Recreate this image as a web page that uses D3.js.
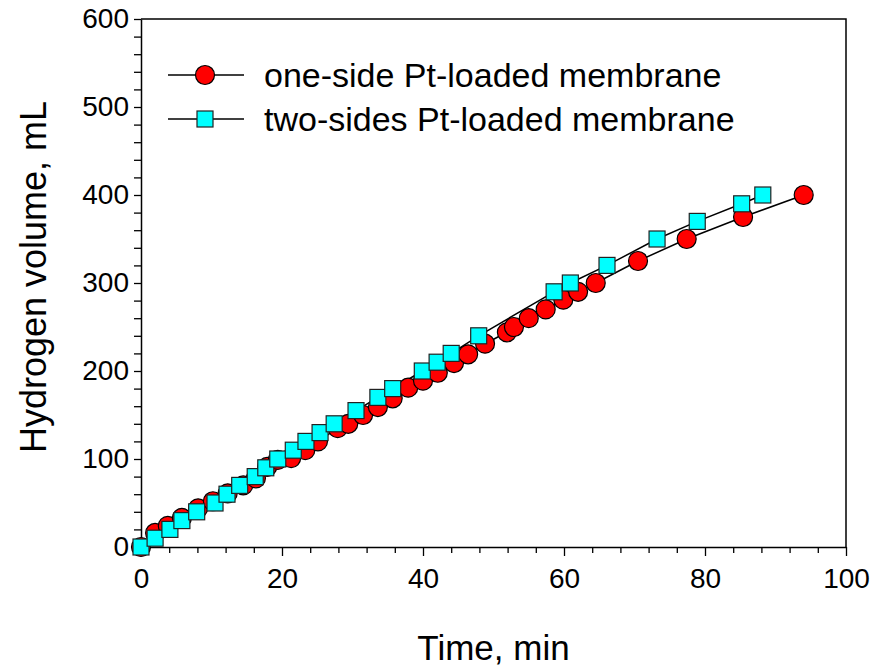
<!DOCTYPE html>
<html>
<head>
<meta charset="utf-8">
<script src="https://cdn.jsdelivr.net/npm/d3@7"></script>
<style>
  body { margin: 0; background: #fff; }
  svg text { font-family: Arial, "Liberation Sans", sans-serif; fill: #000; }
</style>
</head>
<body>
<div id="chart"></div>
<script>
// one-side Pt-loaded membrane (time in min, volume in mL)
const oneSideTime = [0, 2.0, 3.8, 5.8, 8.1, 10.2, 12.3, 14.5, 16.3, 17.9, 19.4, 21.3, 23.3, 25.1, 27.9, 29.4,
  31.5, 33.6, 35.7, 37.9, 40.0, 42.1, 44.4, 46.4, 48.8, 51.9, 52.9, 55.0, 57.4, 59.9, 62.0, 64.5, 70.5, 77.4, 85.4, 94.0];
const oneSideVol = [0, 16, 24, 33, 44, 52, 61, 70, 78, 91, 99, 101, 110, 120, 135, 140,
  150, 159, 169, 181, 189, 198, 209, 219, 231, 244, 250, 260, 270, 281, 290, 300, 325, 350, 375, 400];

// two-sides Pt-loaded membrane
const twoSidesTime = [0, 2.0, 4.1, 5.8, 7.9, 10.5, 12.2, 14.0, 16.2, 17.7, 19.4, 21.6, 23.4, 25.4, 27.4,
  30.5, 33.6, 35.7, 39.9, 42.0, 44.0, 47.9, 58.6, 60.9, 66.1, 73.2, 78.9, 85.2, 88.2];
const twoSidesVol = [0, 10, 20, 30, 40, 50, 60, 70, 80, 90, 100, 110, 120, 130, 140,
  155, 170, 180, 200, 210, 220, 240, 290, 300, 320, 350, 370, 390, 400];

const seriesNames = ["one-side Pt-loaded membrane", "two-sides Pt-loaded membrane"];
const xTicks = [0, 20, 40, 60, 80, 100];
const yTicks = [0, 100, 200, 300, 400, 500, 600];

const width = 870, height = 668;
const plot = { left: 141, right: 846, top: 19, bottom: 547 };

const svg = d3.select("#chart").append("svg")
  .attr("width", width)
  .attr("height", height);

const x = d3.scaleLinear().domain([0, 100]).range([plot.left, plot.right]);
const y = d3.scaleLinear().domain([0, 600]).range([plot.bottom, plot.top]);

// frame: top and right border
svg.append("path")
  .attr("d", `M${plot.left},${plot.top}H${plot.right}V${plot.bottom}`)
  .attr("fill", "none")
  .attr("stroke", "#000")
  .attr("stroke-width", 1.5);

// minor ticks
svg.append("g")
  .attr("transform", `translate(0,${plot.bottom})`)
  .call(d3.axisBottom(x).tickValues(d3.range(0, 101, 4).filter(v => v % 20 !== 0)).tickSize(6).tickFormat(""))
  .call(g => g.select(".domain").remove());
svg.append("g")
  .attr("transform", `translate(${plot.left},0)`)
  .call(d3.axisLeft(y).tickValues(d3.range(0, 601, 20).filter(v => v % 100 !== 0)).tickSize(7).tickFormat(""))
  .call(g => g.select(".domain").remove());

// major axes
const xAxis = svg.append("g")
  .attr("transform", `translate(0,${plot.bottom})`)
  .call(d3.axisBottom(x).tickValues(xTicks).tickSize(9).tickPadding(12).tickSizeOuter(0));
const yAxis = svg.append("g")
  .attr("transform", `translate(${plot.left},0)`)
  .call(d3.axisLeft(y).tickValues(yTicks).tickSize(7).tickPadding(5).tickSizeOuter(0));

svg.selectAll(".tick line").attr("stroke", "#000").attr("stroke-width", 1.3);
[xAxis, yAxis].forEach(a => {
  a.select(".domain").attr("stroke", "#000").attr("stroke-width", 1.5);
  a.selectAll("text").style("font-size", "28px").style("font-family", "Arial, 'Liberation Sans', sans-serif");
});

// axis titles
svg.append("text")
  .attr("x", (plot.left + plot.right) / 2)
  .attr("y", 660)
  .attr("text-anchor", "middle")
  .style("font-size", "35px")
  .text("Time, min");

svg.append("text")
  .attr("transform", `translate(46,${(plot.top + plot.bottom) / 2 - 6}) rotate(-90)`)
  .attr("text-anchor", "middle")
  .style("font-size", "36px")
  .text("Hydrogen volume, mL");

const line = d3.line().x(d => x(d.t)).y(d => y(d.v));
const oneSide = oneSideTime.map((t, i) => ({ t: t, v: oneSideVol[i] }));
const twoSides = twoSidesTime.map((t, i) => ({ t: t, v: twoSidesVol[i] }));

[oneSide, twoSides].forEach(data => {
  svg.append("path")
    .datum(data)
    .attr("fill", "none")
    .attr("stroke", "#000")
    .attr("stroke-width", 1.5)
    .attr("d", line);
});

// circles
svg.append("g").selectAll("circle")
  .data(oneSide)
  .enter().append("circle")
  .attr("cx", d => x(d.t))
  .attr("cy", d => y(d.v))
  .attr("r", 9.5)
  .attr("fill", "#ff0000")
  .attr("stroke", "#000")
  .attr("stroke-width", 1.2);

// squares
const sq = 16;
svg.append("g").selectAll("rect")
  .data(twoSides)
  .enter().append("rect")
  .attr("x", d => x(d.t) - sq / 2)
  .attr("y", d => y(d.v) - sq / 2)
  .attr("width", sq)
  .attr("height", sq)
  .attr("fill", "#00ffff")
  .attr("stroke", "#222")
  .attr("stroke-width", 1.2);

// legend
const legend = svg.append("g").attr("transform", "translate(168,75)");
seriesNames.forEach((name, i) => {
  const row = legend.append("g").attr("transform", `translate(0,${i * 44})`);
  row.append("line")
    .attr("x1", 0).attr("x2", 76)
    .attr("stroke", "#000").attr("stroke-width", 1.5);
  if (i === 0) {
    row.append("circle").attr("cx", 37).attr("r", 9.5)
      .attr("fill", "#ff0000").attr("stroke", "#000").attr("stroke-width", 1.2);
  } else {
    row.append("rect").attr("x", 37 - sq / 2).attr("y", -sq / 2)
      .attr("width", sq).attr("height", sq)
      .attr("fill", "#00ffff").attr("stroke", "#222").attr("stroke-width", 1.2);
  }
  row.append("text")
    .attr("x", 96)
    .attr("dy", "0.35em")
    .style("font-size", "34px")
    .text(name);
});
</script>
</body>
</html>
